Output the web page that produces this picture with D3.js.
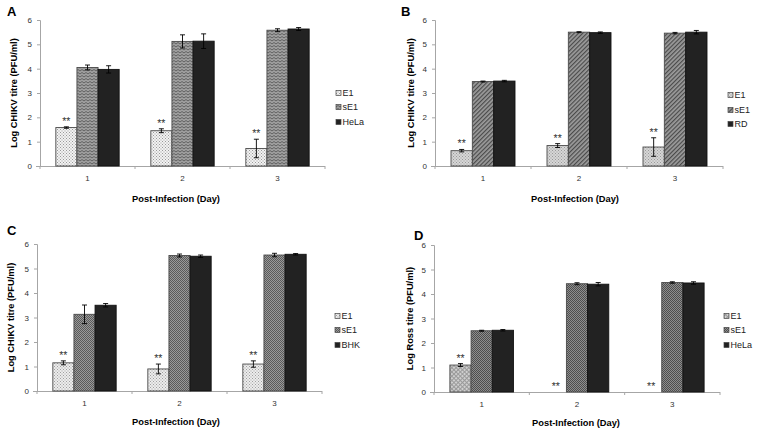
<!DOCTYPE html>
<html>
<head>
<meta charset="utf-8">
<script src="https://cdn.jsdelivr.net/npm/d3@7"></script>
<style>
  body { margin: 0; background: #fff; }
  svg { display: block; font-family: Arial, "Liberation Sans", sans-serif; }
</style>
</head>
<body>
<div id="chart"></div>
<script>
// --- Data ---
const days = ["1", "2", "3"];
const yTicks = [0, 1, 2, 3, 4, 5, 6];

const seriesA = ["E1", "sE1", "HeLa"];
const valuesA = [[1.58, 1.45, 0.72], [4.05, 5.12, 5.58], [3.97, 5.13, 5.63]];
const errorsA = [[0.03, 0.08, 0.38], [0.10, 0.27, 0.06], [0.15, 0.30, 0.06]];

const seriesB = ["E1", "sE1", "RD"];
const valuesB = [[0.63, 0.84, 0.78], [3.47, 5.50, 5.46], [3.49, 5.48, 5.50]];
const errorsB = [[0.05, 0.08, 0.38], [0.02, 0.02, 0.03], [0.03, 0.03, 0.07]];

const seriesC = ["E1", "sE1", "BHK"];
const valuesC = [[1.15, 0.90, 1.10], [3.13, 5.53, 5.55], [3.50, 5.50, 5.58]];
const errorsC = [[0.08, 0.20, 0.13], [0.38, 0.06, 0.07], [0.07, 0.05, 0.03]];

const seriesD = ["E1", "sE1", "HeLa"];
const valuesD = [[1.10, 0, 0], [2.50, 4.42, 4.47], [2.52, 4.40, 4.45]];
const errorsD = [[0.06, 0, 0], [0.02, 0.04, 0.03], [0.03, 0.07, 0.05]];

// significance marks over the E1 bars
const starsE1 = ["**", "**", "**"];

const svg = d3.select("#chart").append("svg").attr("width", 764).attr("height", 431);
const defs = svg.append("defs");

// --- Fill patterns (Excel-like) ---
function dots(id, bg, fg, size) {
  const p = defs.append("pattern").attr("id", id).attr("patternUnits", "userSpaceOnUse")
    .attr("width", size).attr("height", size);
  p.append("rect").attr("width", size).attr("height", size).attr("fill", bg);
  p.append("rect").attr("width", 1).attr("height", 1).attr("fill", fg);
  p.append("rect").attr("x", size / 2).attr("y", size / 2).attr("width", 1).attr("height", 1).attr("fill", fg);
}
dots("dotA", "#f2f2f2", "#9a9a9a", 3);
dots("dotB", "#d6d6d6", "#9a9a9a", 3);
dots("dotC", "#ececec", "#a0a0a0", 3);

// zigzag
{
  const p = defs.append("pattern").attr("id", "zigA").attr("patternUnits", "userSpaceOnUse")
    .attr("width", 4).attr("height", 3);
  p.append("rect").attr("width", 4).attr("height", 3).attr("fill", "#a0a0a0");
  p.append("path").attr("d", "M0,2 L2,0.5 L4,2").attr("fill", "none").attr("stroke", "#585858").attr("stroke-width", 0.9);
}
// diagonal hatch
{
  const p = defs.append("pattern").attr("id", "diagB").attr("patternUnits", "userSpaceOnUse")
    .attr("width", 3).attr("height", 3).attr("patternTransform", "rotate(45)");
  p.append("rect").attr("width", 3).attr("height", 3).attr("fill", "#9c9c9c");
  p.append("rect").attr("width", 1.2).attr("height", 3).attr("fill", "#4a4a4a");
}
// checker
function checker(id, a, b) {
  const p = defs.append("pattern").attr("id", id).attr("patternUnits", "userSpaceOnUse")
    .attr("width", 2).attr("height", 2);
  p.append("rect").attr("width", 2).attr("height", 2).attr("fill", a);
  p.append("rect").attr("width", 1).attr("height", 1).attr("fill", b);
  p.append("rect").attr("x", 1).attr("y", 1).attr("width", 1).attr("height", 1).attr("fill", b);
}
checker("chkC", "#9a9a9a", "#5a5a5a");
checker("chkD", "#8e8e8e", "#4e4e4e");
// cross hatch
{
  const p = defs.append("pattern").attr("id", "crossD").attr("patternUnits", "userSpaceOnUse")
    .attr("width", 3).attr("height", 3).attr("patternTransform", "rotate(45)");
  p.append("rect").attr("width", 3).attr("height", 3).attr("fill", "#d0d0d0");
  p.append("rect").attr("width", 1).attr("height", 3).attr("fill", "#9a9a9a");
  p.append("rect").attr("width", 3).attr("height", 1).attr("fill", "#9a9a9a");
}

const panels = [
  { letter: "A", lx: 7, ly: 16, x0: 40, x1: 325, y0: 166, y1: 20, series: seriesA, values: valuesA, errors: errorsA,
    fills: ["url(#dotA)", "url(#zigA)", "#222"], ylabel: "Log CHIKV titre (PFU/ml)", ylx: 14, xlx: 176, xly: 202,
    legX: 336, legY: [93, 107, 122] },
  { letter: "B", lx: 401, ly: 16, x0: 435, x1: 723, y0: 166, y1: 20, series: seriesB, values: valuesB, errors: errorsB,
    fills: ["url(#dotB)", "url(#diagB)", "#222"], ylabel: "Log CHIKV titre (PFU/ml)", ylx: 411, xlx: 575, xly: 202,
    legX: 728, legY: [95, 110, 124] },
  { letter: "C", lx: 7, ly: 235, x0: 37, x1: 322, y0: 391, y1: 244, series: seriesC, values: valuesC, errors: errorsC,
    fills: ["url(#dotC)", "url(#chkC)", "#222"], ylabel: "Log CHIKV titre (PFU/ml)", ylx: 11, xlx: 176, xly: 425,
    legX: 335, legY: [316, 330, 345] },
  { letter: "D", lx: 414, ly: 240, x0: 434, x1: 720, y0: 392, y1: 245, series: seriesD, values: valuesD, errors: errorsD,
    fills: ["url(#crossD)", "url(#chkD)", "#222"], ylabel: "Log Ross titre (PFU/ml)", ylx: 410, xlx: 576, xly: 426,
    legX: 724, legY: [316, 330, 345] },
];

const axisColor = "#a6a6a6";

panels.forEach((p) => {
  const g = svg.append("g");
  const x = d3.scaleBand().domain(days).range([p.x0, p.x1]).paddingInner(1 / 3).paddingOuter(1 / 6);
  const xs = d3.scaleBand().domain(p.series).range([0, x.bandwidth()]);
  const y = d3.scaleLinear().domain([0, 6]).range([p.y0, p.y1]);

  // panel letter
  g.append("text").attr("x", p.lx).attr("y", p.ly).attr("font-size", 13).attr("font-weight", "bold").text(p.letter);

  // y axis
  const ya = g.append("g").attr("transform", `translate(${p.x0},0)`)
    .call(d3.axisLeft(y).tickValues(yTicks).tickSize(3).tickPadding(5).tickFormat(d3.format("d")));
  ya.selectAll(".domain, .tick line").attr("stroke", axisColor);
  ya.selectAll("text").attr("font-size", 8).attr("fill", "#333").attr("font-family", null);

  // x axis: category labels, ticks at boundaries
  const xa = g.append("g").attr("transform", `translate(0,${p.y0})`)
    .call(d3.axisBottom(x).tickSize(0).tickPadding(9));
  xa.select(".domain").attr("stroke", axisColor).attr("d", `M${p.x0 - 4},0.5H${p.x1}`);
  xa.selectAll("text").attr("font-size", 8).attr("fill", "#333").attr("font-family", null);
  const step = x.step();
  g.append("g").selectAll("line").data(d3.range(days.length + 1)).join("line")
    .attr("x1", (i) => p.x0 + i * step).attr("x2", (i) => p.x0 + i * step)
    .attr("y1", p.y0).attr("y2", p.y0 + 3).attr("stroke", axisColor);

  // bars
  p.series.forEach((s, si) => {
    const bg = g.append("g");
    days.forEach((d, di) => {
      const v = p.values[si][di];
      const e = p.errors[si][di];
      const bx = x(d) + xs(s);
      if (v > 0) {
        bg.append("rect").attr("x", bx).attr("y", y(v)).attr("width", xs.bandwidth()).attr("height", y(0) - y(v))
          .attr("fill", p.fills[si]).attr("stroke", si === 2 ? "#111" : "#4a4a4a").attr("stroke-width", 0.9);
      }
      if (e > 0) {
        const cx = bx + xs.bandwidth() / 2;
        bg.append("path")
          .attr("d", `M${cx},${y(v + e)}V${y(v - e)}M${cx - 2.5},${y(v + e)}H${cx + 2.5}M${cx - 2.5},${y(v - e)}H${cx + 2.5}`)
          .attr("stroke", "#000").attr("stroke-width", 0.9).attr("fill", "none");
      }
      if (si === 0) {
        g.append("text").attr("x", bx + xs.bandwidth() / 2).attr("y", y(v + e) - 2).attr("text-anchor", "middle")
          .attr("font-size", 10.5).attr("fill", "#333").text(starsE1[di]);
      }
    });
  });

  // axis titles
  g.append("text").attr("transform", `translate(${p.ylx},${(p.y0 + p.y1) / 2}) rotate(-90)`)
    .attr("text-anchor", "middle").attr("dy", "0.35em").attr("font-size", 9.3).attr("font-weight", "bold")
    .text(p.ylabel);
  g.append("text").attr("x", p.xlx).attr("y", p.xly).attr("text-anchor", "middle")
    .attr("font-size", 9.3).attr("font-weight", "bold").text("Post-Infection (Day)");

  // legend
  p.series.forEach((s, si) => {
    g.append("rect").attr("x", p.legX).attr("y", p.legY[si] - 2.5).attr("width", 5).attr("height", 5)
      .attr("fill", p.fills[si]).attr("stroke", "#444").attr("stroke-width", 0.7);
    g.append("text").attr("x", p.legX + 6.5).attr("y", p.legY[si]).attr("dy", "0.35em")
      .attr("font-size", 9).attr("fill", "#222").text(s);
  });
});
</script>
</body>
</html>
